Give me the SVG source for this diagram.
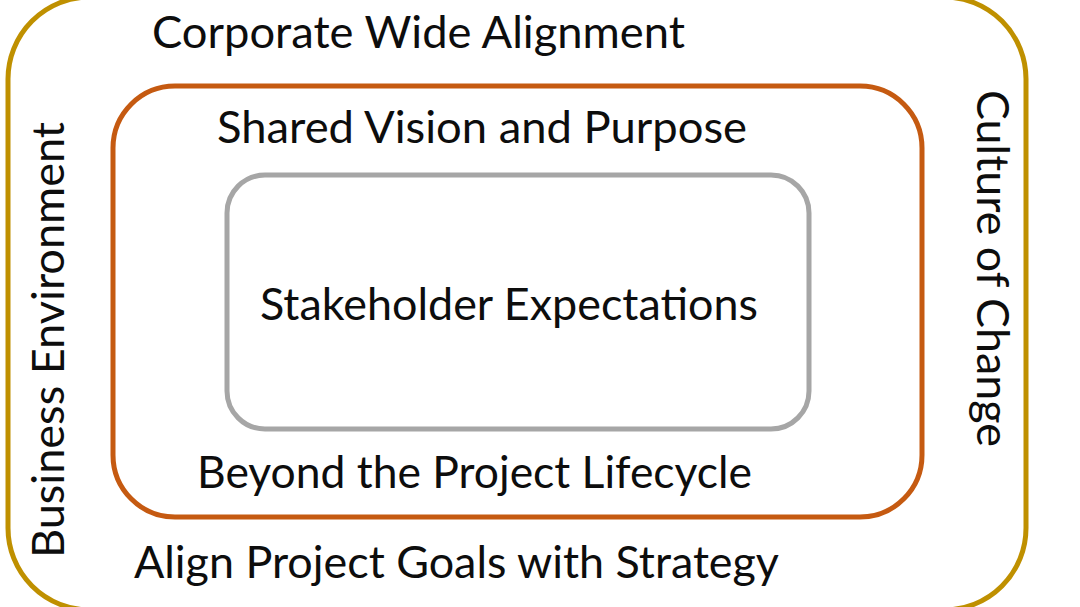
<svg xmlns="http://www.w3.org/2000/svg" width="1080" height="607" viewBox="0 0 1080 607">
  <style>
    .lbl { font-family: Lato, "Open Sans", "Liberation Sans", sans-serif; font-size: 45px; fill: #0d0d0d; }
    .box { fill: none; stroke-width: 5; }
  </style>
  <rect x="0" y="0" width="1080" height="607" fill="#ffffff"/>
  <g id="outer">
    <rect class="box" x="8" y="-3" width="1018" height="613" rx="82" ry="82" stroke="#BF9000"/>
    <text class="lbl" x="152" y="48" textLength="533" lengthAdjust="spacingAndGlyphs">Corporate Wide Alignment</text>
    <text class="lbl" x="134" y="578" textLength="645" lengthAdjust="spacingAndGlyphs">Align Project Goals with Strategy</text>
    <text class="lbl" transform="translate(64,558) rotate(-90)" x="0" y="0" textLength="436" lengthAdjust="spacingAndGlyphs">Business Environment</text>
    <text class="lbl" transform="translate(977,90) rotate(90)" x="0" y="0" textLength="357" lengthAdjust="spacingAndGlyphs">Culture of Change</text>
  </g>
  <g id="middle">
    <rect class="box" x="113" y="86" width="809" height="431" rx="62" ry="62" stroke="#C55A11"/>
    <text class="lbl" x="217" y="143" textLength="530" lengthAdjust="spacingAndGlyphs">Shared Vision and Purpose</text>
    <text class="lbl" x="197" y="488" textLength="555" lengthAdjust="spacingAndGlyphs">Beyond the Project Lifecycle</text>
  </g>
  <g id="inner">
    <rect class="box" x="227" y="175" width="582" height="254" rx="38" ry="38" stroke="#A6A6A6"/>
    <text class="lbl" x="260" y="320" textLength="498" lengthAdjust="spacingAndGlyphs">Stakeholder Expectations</text>
  </g>
  <g id="connectors"/>
</svg>
